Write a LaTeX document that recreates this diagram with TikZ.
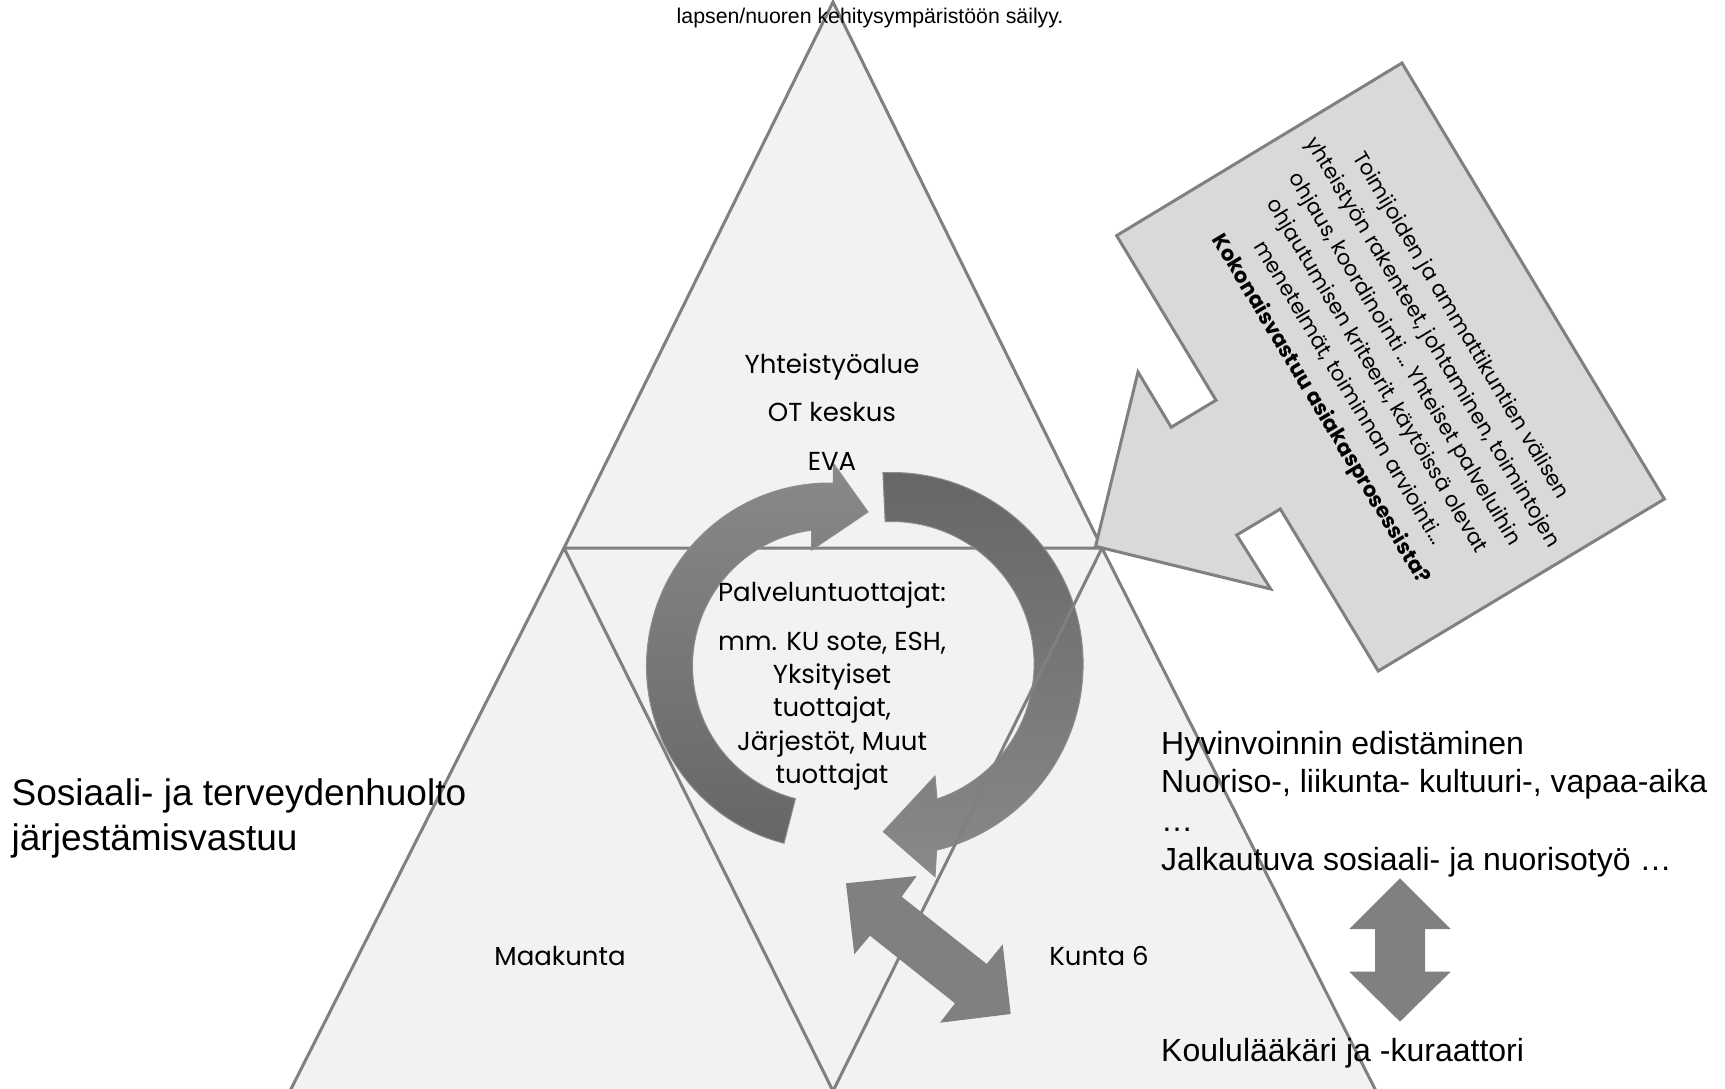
\documentclass[tikz,border=0pt]{standalone}
\usepackage{fontspec}
\setmainfont{Liberation Sans}
\newfontfamily\geo{Poppins}
\usetikzlibrary{calc}
\definecolor{trifillc}{HTML}{F2F2F2}
\definecolor{trilinec}{HTML}{808080}
\definecolor{callfillc}{HTML}{D9D9D9}
\definecolor{arrlight}{HTML}{898989}
\definecolor{arrdark}{HTML}{666666}
\definecolor{arredge}{HTML}{8C8C8C}
\definecolor{dblc}{HTML}{808080}
\begin{document}
\begin{tikzpicture}[x=1pt,y=-1pt,line join=miter,
  triline/.style={draw=trilinec,line width=3pt},
  callout/.style={fill=callfillc,draw=trilinec,line width=3pt},
  circarrow/.style={draw=arredge,line width=1pt},
  dblarrow/.style={fill=dblc},
  arial/.style={inner sep=0pt,anchor=base west},
  geolabel/.style={inner sep=0pt,anchor=base,font=\geo\fontsize{26}{32}\selectfont}]
\useasboundingbox (0,0) rectangle (1725,1089);
\clip (0,0) rectangle (1725,1089);

% triangle corners
\coordinate (A) at (833,2);
\coordinate (ML) at (564,548);
\coordinate (MR) at (1102,548);
\coordinate (BL) at (290,1091);
\coordinate (BM) at (833,1091);
\coordinate (BR) at (1376,1091);

% fills and outer lines
\fill[trifillc] (A) -- (ML) -- (BL) -- (BR) -- (MR) -- cycle;
\draw[triline] (ML) -- (A) -- (MR) -- cycle;
\draw[triline] (ML) -- (BL);
\draw[triline] (MR) -- (BR);

% callout
\draw[callout] (1116.6,235.6) -- (1402,63) -- (1664.4,499) -- (1378.2,671)
  -- (1280.3,509) -- (1236.7,535) -- (1270.7,589) -- (1095.6,546.3)
  -- (1138,372) -- (1171.2,427.2) -- (1216,400.2) -- cycle;

% circular arrows
\coordinate (Lc) at (829.5,666);
\coordinate (Rc) at (891.6,664);
\path[circarrow,top color=arrlight,bottom color=arrdark]
  ($(Lc)+(104.4:183)$) arc[start angle=104.4,end angle=271.2,radius=183]
  -- (833.3,463.3) -- (868,512) -- (811.7,550)
  -- ($(Lc)+(262.5:137)$) arc[start angle=262.5,end angle=104.4,radius=137] -- cycle;
\path[circarrow,top color=arrdark,bottom color=arrlight]
  ($(Rc)+(267.4:191.5)$) arc[start angle=267.4,end angle=436.4,radius=191.5]
  -- (935,876.7) -- (883.3,831.7) -- (935,776)
  -- ($(Rc)+(431.4:142.5)$) arc[start angle=431.4,end angle=267.4,radius=142.5] -- cycle;

% double arrows
\fill[dblarrow] (846,883.3) -- (916.7,876) -- (901.7,896.7) -- (986.7,964)
  -- (1002.7,944.3) -- (1010.7,1014) -- (940,1022.7) -- (955,1003.3)
  -- (870,935.7) -- (854.3,954.3) -- cycle;
\fill[dblarrow] (1400,878.3) -- (1450.7,929) -- (1425,929) -- (1425,971.7)
  -- (1450.7,971.7) -- (1400,1021.7) -- (1349.3,971.7) -- (1375,971.7)
  -- (1375,929) -- (1349.3,929) -- cycle;

% inner lines on top
\draw[triline] (ML) -- (BM) -- (MR);

% texts
\node[arial,font=\fontsize{21.3}{25}\selectfont] (toptext) at (676.5,23.3) {lapsen/nuoren kehitysympäristöön säilyy.};

\node[geolabel] (yht) at (832,373) {Yhteistyöalue};
\node[geolabel] (ot) at (832,421) {OT keskus};
\node[geolabel] (eva) at (832,470) {EVA};
\node[geolabel] (pt) at (832,601.7) {Palveluntuottajat:};
\node[geolabel] (pt1) at (832,650) {mm. KU sote, ESH,};
\node[geolabel] (pt2) at (832,683.3) {Yksityiset};
\node[geolabel] (pt3) at (832,716.7) {tuottajat,};
\node[geolabel] (pt4) at (832,750) {Järjestöt, Muut};
\node[geolabel] (pt5) at (832,783.3) {tuottajat};
\node[geolabel] (maak) at (560,965) {Maakunta};
\node[geolabel] (kunta) at (1099,965) {Kunta 6};

\node[rotate=-59,align=center,inner sep=0pt,font=\geo\fontsize{21}{32.6}\selectfont] (calltext) at (1390,368)
  {Toimijoiden ja ammattikuntien välisen\\
   yhteistyön rakenteet, johtaminen, toimintojen\\
   ohjaus, koordinointi … Yhteiset palveluihin\\
   ohjautumisen kriteerit, käytöissä olevat\\
   menetelmät, toiminnan arviointi…\\
   \textbf{Kokonaisvastuu asiakasprosessista?}};

\node[arial,font=\fontsize{37}{44}\selectfont] (sote1) at (11.5,805) {Sosiaali- ja terveydenhuolto};
\node[arial,font=\fontsize{37}{44}\selectfont] (sote2) at (11.5,850) {järjestämisvastuu};

\node[arial,font=\fontsize{32}{38}\selectfont] (r1) at (1161,754) {Hyvinvoinnin edistäminen};
\node[arial,font=\fontsize{32}{38}\selectfont] (r2) at (1161,792.6) {Nuoriso-, liikunta- kultuuri-, vapaa-aika};
\node[arial,font=\fontsize{32}{38}\selectfont] (r3) at (1161,831.3) {…};
\node[arial,font=\fontsize{32}{38}\selectfont] (r4) at (1161,870) {Jalkautuva sosiaali- ja nuorisotyö …};
\node[arial,font=\fontsize{32}{38}\selectfont] (r5) at (1161,1061.7) {Koululääkäri ja -kuraattori};
\end{tikzpicture}
\end{document}
